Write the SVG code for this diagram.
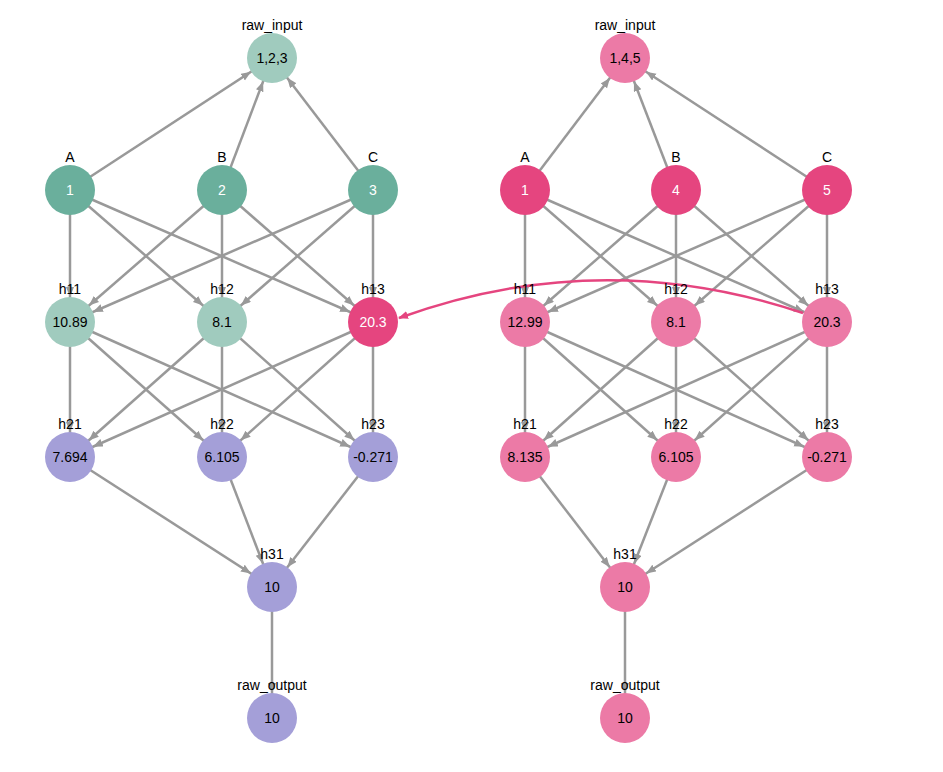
<svg xmlns="http://www.w3.org/2000/svg" width="943" height="772" viewBox="0 0 943 772">
<defs>
<marker id="ar" markerUnits="userSpaceOnUse" markerWidth="12" markerHeight="10" refX="35" refY="4" orient="auto"><path d="M0,0 L10,4 L0,8 z" fill="#999"/></marker>
<marker id="pk" markerUnits="userSpaceOnUse" markerWidth="12" markerHeight="10" refX="9" refY="4" orient="auto"><path d="M0,0 L10,4 L0,8 z" fill="#e5457f"/></marker>
</defs>
<style>
.e line{stroke:#999;stroke-width:2.5;marker-end:url(#ar)}
text{font-family:"Liberation Sans",Arial,sans-serif;font-size:14px;text-anchor:middle}
.v{dominant-baseline:central}
.w{fill:#fff}
.t1{fill:#6aaf9c}.t2{fill:#a0cbbe}.pu{fill:#a49fd8}.p1{fill:#e5457f}.p2{fill:#ec7aa6}
</style>
<rect width="943" height="772" fill="#fff"/>
<g id="connectors" class="e">
<line x1="70" y1="190" x2="272" y2="58"/><line x1="222" y1="190" x2="272" y2="58"/><line x1="373" y1="190" x2="272" y2="58"/>
<line x1="70" y1="190" x2="70" y2="322"/><line x1="70" y1="190" x2="222" y2="322"/><line x1="70" y1="190" x2="373" y2="322"/>
<line x1="222" y1="190" x2="70" y2="322"/><line x1="222" y1="190" x2="222" y2="322"/><line x1="222" y1="190" x2="373" y2="322"/>
<line x1="373" y1="190" x2="70" y2="322"/><line x1="373" y1="190" x2="222" y2="322"/><line x1="373" y1="190" x2="373" y2="322"/>
<line x1="70" y1="322" x2="70" y2="457"/><line x1="70" y1="322" x2="222" y2="457"/><line x1="70" y1="322" x2="373" y2="457"/>
<line x1="222" y1="322" x2="70" y2="457"/><line x1="222" y1="322" x2="222" y2="457"/><line x1="222" y1="322" x2="373" y2="457"/>
<line x1="373" y1="322" x2="70" y2="457"/><line x1="373" y1="322" x2="222" y2="457"/><line x1="373" y1="322" x2="373" y2="457"/>
<line x1="70" y1="457" x2="272" y2="587"/><line x1="222" y1="457" x2="272" y2="587"/><line x1="373" y1="457" x2="272" y2="587"/>
<line x1="272" y1="587" x2="272" y2="718"/>
<line x1="525" y1="190" x2="625" y2="58"/><line x1="676" y1="190" x2="625" y2="58"/><line x1="827" y1="190" x2="625" y2="58"/>
<line x1="525" y1="190" x2="525" y2="322"/><line x1="525" y1="190" x2="676" y2="322"/><line x1="525" y1="190" x2="827" y2="322"/>
<line x1="676" y1="190" x2="525" y2="322"/><line x1="676" y1="190" x2="676" y2="322"/><line x1="676" y1="190" x2="827" y2="322"/>
<line x1="827" y1="190" x2="525" y2="322"/><line x1="827" y1="190" x2="676" y2="322"/><line x1="827" y1="190" x2="827" y2="322"/>
<line x1="525" y1="322" x2="525" y2="457"/><line x1="525" y1="322" x2="676" y2="457"/><line x1="525" y1="322" x2="827" y2="457"/>
<line x1="676" y1="322" x2="525" y2="457"/><line x1="676" y1="322" x2="676" y2="457"/><line x1="676" y1="322" x2="827" y2="457"/>
<line x1="827" y1="322" x2="525" y2="457"/><line x1="827" y1="322" x2="676" y2="457"/><line x1="827" y1="322" x2="827" y2="457"/>
<line x1="525" y1="457" x2="625" y2="587"/><line x1="676" y1="457" x2="625" y2="587"/><line x1="827" y1="457" x2="625" y2="587"/>
<line x1="625" y1="587" x2="625" y2="718"/>
<path d="M803,313 Q600,245 399,318" fill="none" stroke="#e5457f" stroke-width="2.5" marker-end="url(#pk)"/>
</g>
<g id="L_raw_input"><circle cx="272" cy="58" r="25" class="t2"/><text x="272" y="30">raw_input</text><text class="v" x="272" y="58">1,2,3</text></g>
<g id="L_A"><circle cx="70" cy="190" r="25" class="t1"/><text x="70" y="162">A</text><text class="v w" x="70" y="190">1</text></g>
<g id="L_B"><circle cx="222" cy="190" r="25" class="t1"/><text x="222" y="162">B</text><text class="v w" x="222" y="190">2</text></g>
<g id="L_C"><circle cx="373" cy="190" r="25" class="t1"/><text x="373" y="162">C</text><text class="v w" x="373" y="190">3</text></g>
<g id="L_h11"><circle cx="70" cy="322" r="25" class="t2"/><text x="70" y="294">h11</text><text class="v" x="70" y="322">10.89</text></g>
<g id="L_h12"><circle cx="222" cy="322" r="25" class="t2"/><text x="222" y="294">h12</text><text class="v" x="222" y="322">8.1</text></g>
<g id="L_h13"><circle cx="373" cy="322" r="25" class="p1"/><text x="373" y="294">h13</text><text class="v w" x="373" y="322">20.3</text></g>
<g id="L_h21"><circle cx="70" cy="457" r="25" class="pu"/><text x="70" y="429">h21</text><text class="v" x="70" y="457">7.694</text></g>
<g id="L_h22"><circle cx="222" cy="457" r="25" class="pu"/><text x="222" y="429">h22</text><text class="v" x="222" y="457">6.105</text></g>
<g id="L_h23"><circle cx="373" cy="457" r="25" class="pu"/><text x="373" y="429">h23</text><text class="v" x="373" y="457">-0.271</text></g>
<g id="L_h31"><circle cx="272" cy="587" r="25" class="pu"/><text x="272" y="559">h31</text><text class="v" x="272" y="587">10</text></g>
<g id="L_raw_output"><circle cx="272" cy="718" r="25" class="pu"/><text x="272" y="690">raw_output</text><text class="v" x="272" y="718">10</text></g>
<g id="R_raw_input"><circle cx="625" cy="58" r="25" class="p2"/><text x="625" y="30">raw_input</text><text class="v" x="625" y="58">1,4,5</text></g>
<g id="R_A"><circle cx="525" cy="190" r="25" class="p1"/><text x="525" y="162">A</text><text class="v w" x="525" y="190">1</text></g>
<g id="R_B"><circle cx="676" cy="190" r="25" class="p1"/><text x="676" y="162">B</text><text class="v w" x="676" y="190">4</text></g>
<g id="R_C"><circle cx="827" cy="190" r="25" class="p1"/><text x="827" y="162">C</text><text class="v w" x="827" y="190">5</text></g>
<g id="R_h11"><circle cx="525" cy="322" r="25" class="p2"/><text x="525" y="294">h11</text><text class="v" x="525" y="322">12.99</text></g>
<g id="R_h12"><circle cx="676" cy="322" r="25" class="p2"/><text x="676" y="294">h12</text><text class="v" x="676" y="322">8.1</text></g>
<g id="R_h13"><circle cx="827" cy="322" r="25" class="p2"/><text x="827" y="294">h13</text><text class="v" x="827" y="322">20.3</text></g>
<g id="R_h21"><circle cx="525" cy="457" r="25" class="p2"/><text x="525" y="429">h21</text><text class="v" x="525" y="457">8.135</text></g>
<g id="R_h22"><circle cx="676" cy="457" r="25" class="p2"/><text x="676" y="429">h22</text><text class="v" x="676" y="457">6.105</text></g>
<g id="R_h23"><circle cx="827" cy="457" r="25" class="p2"/><text x="827" y="429">h23</text><text class="v" x="827" y="457">-0.271</text></g>
<g id="R_h31"><circle cx="625" cy="587" r="25" class="p2"/><text x="625" y="559">h31</text><text class="v" x="625" y="587">10</text></g>
<g id="R_raw_output"><circle cx="625" cy="718" r="25" class="p2"/><text x="625" y="690">raw_output</text><text class="v" x="625" y="718">10</text></g>
</svg>
